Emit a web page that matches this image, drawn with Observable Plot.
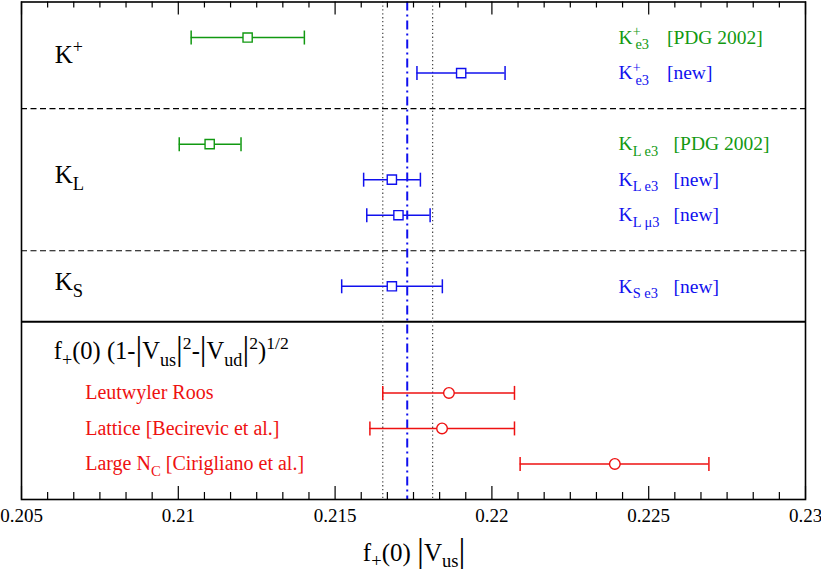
<!DOCTYPE html>
<html>
<head>
<meta charset="utf-8">
<script src="https://cdn.jsdelivr.net/npm/d3@7"></script>
<script src="https://cdn.jsdelivr.net/npm/@observablehq/plot@0.6"></script>
<style>
  html, body { margin: 0; padding: 0; background: white; }
  svg text { white-space: pre; }
</style>
</head>
<body>
<div id="chart"></div>
<script>
// ---- data ----
const rows    = [1, 2, 4, 5, 6, 8, 11, 12, 13];
const centers = [0.21221, 0.21902, 0.21100, 0.21681, 0.21702, 0.21681, 0.21863, 0.21841, 0.22392];
const lows    = [0.21041, 0.21761, 0.21003, 0.21591, 0.21601, 0.21521, 0.21652, 0.21611, 0.22090];
const highs   = [0.21402, 0.22042, 0.21200, 0.21772, 0.21803, 0.21842, 0.22072, 0.22072, 0.22692];
const kinds   = ["PDG 2002", "new", "PDG 2002", "new", "new", "new", "theory", "theory", "theory"];
const names   = ["K^{+}_{e3}", "K^{+}_{e3}", "K_{L e3}", "K_{L e3}", "K_{L μ3}", "K_{S e3}",
                 "Leutwyler Roos", "Lattice [Becirevic et al.]", "Large N_{C} [Cirigliano et al.]"];
const tags    = ["[PDG 2002]", "[new]", "[PDG 2002]", "[new]", "[new]", "[new]", "", "", ""];

const groupLabels = ["K^{+}", "K_{L}", "K_{S}"];
const groupRows   = [1.5, 4.88, 7.89];
const formulaLabel = "f_{+}(0) (1-#|V_{us}#|^{2}-#|V_{ud}#|^{2})^{1/2}";
const formulaRow = 9.83;

const dashedRows = [3, 7];
const solidRows  = [9];
const centralValue = 0.2173;
const bandEdges = [0.21652, 0.21811];

const majorTicks = [0.205, 0.21, 0.215, 0.22, 0.225, 0.23];
const tickLabels = ["0.205", "0.21", "0.215", "0.22", "0.225", "0.23"];
const minorTicks = d3.range(0, 31).map(k => 0.205 + k * 0.005 / 6).filter((d, k) => k % 6 !== 0);
const xTitle = "f_{+}(0) #|V_{us}#|";

const points = rows.map((r, i) => ({row: r, c: centers[i], lo: lows[i], hi: highs[i], kind: kinds[i],
  label: names[i], tag: tags[i]}));
const expPts = points.filter(d => d.kind !== "theory");
const thPts  = points.filter(d => d.kind === "theory");
const tagA = expPts.filter(d => d.label.includes("^"));
const tagB = expPts.filter(d => !d.label.includes("^"));

const capSymbol = {
  draw(ctx, size) {
    const h = Math.sqrt(size / Math.PI);
    ctx.moveTo(0, -h); ctx.lineTo(0, h);
  }
};

const H = 572, mT = 1.5, mB = 73;
const frameH = H - mT - mB;
const labelX = 0.22404;

const plot = Plot.plot({
  width: 821, height: H,
  marginLeft: 21, marginRight: 16, marginTop: mT, marginBottom: mB,
  x: {domain: [0.205, 0.23], axis: null},
  y: {domain: [0, 14], reverse: true, axis: null},
  color: {domain: ["PDG 2002", "new", "theory"], range: ["#119911", "#1010ee", "#ee1111"]},
  style: {fontFamily: "Liberation Serif", background: "white"},
  marks: [
    Plot.ruleY(dashedRows, {stroke: "black", strokeWidth: 1.2, strokeDasharray: "6,3.5"}),
    Plot.ruleY(solidRows, {stroke: "black", strokeWidth: 2}),
    Plot.ruleX(bandEdges, {stroke: "#444", strokeWidth: 1.2, strokeDasharray: "1.3,2.6"}),
    Plot.ruleX([centralValue], {stroke: "#1010ee", strokeWidth: 2, strokeDasharray: "9,4,2,4"}),
    Plot.ruleY(points, {y: "row", x1: "lo", x2: "hi", stroke: "kind", strokeWidth: 1.5}),
    Plot.dot(points, {x: "lo", y: "row", symbol: capSymbol, r: 7, stroke: "kind", strokeWidth: 1.5}),
    Plot.dot(points, {x: "hi", y: "row", symbol: capSymbol, r: 7, stroke: "kind", strokeWidth: 1.5}),
    Plot.dot(expPts, {x: "c", y: "row", symbol: "square", r: 5.2, fill: "white", stroke: "kind", strokeWidth: 1.4}),
    Plot.dot(thPts, {x: "c", y: "row", symbol: "circle", r: 5.3, fill: "white", stroke: "kind", strokeWidth: 1.4}),
    // ticks (inward, top and bottom)
    Plot.tickX(majorTicks, {x: d => d, insetTop: frameH - 13, stroke: "black", strokeWidth: 1.2}),
    Plot.tickX(majorTicks, {x: d => d, insetBottom: frameH - 13, stroke: "black", strokeWidth: 1.2}),
    Plot.tickX(minorTicks, {x: d => d, insetTop: frameH - 7, stroke: "black", strokeWidth: 1.2}),
    Plot.tickX(minorTicks, {x: d => d, insetBottom: frameH - 6, stroke: "black", strokeWidth: 1.2}),
    Plot.frame({stroke: "black", strokeWidth: 1.6}),
    // tick labels
    Plot.text(majorTicks, {x: d => d, text: (d, i) => tickLabels[i], frameAnchor: "bottom", dy: 22,
      lineAnchor: "bottom", fontSize: 19, fill: "black"}),
    // group labels
    Plot.text(groupLabels, {x: 0.20606, y: (d, i) => groupRows[i], text: d => d, textAnchor: "start",
      fontSize: 25, fill: "black"}),
    Plot.text([formulaLabel], {x: 0.20603, y: formulaRow, text: d => d, textAnchor: "start",
      fontSize: 24.5, fill: "black"}),
    // series labels
    Plot.text(expPts, {x: labelX, y: "row", text: "label", textAnchor: "start", fontSize: 19.5, fill: "kind"}),
    Plot.text(tagA, {x: labelX, y: "row", dx: 48.3, text: "tag", textAnchor: "start", fontSize: 19.5, fill: "kind"}),
    Plot.text(tagB, {x: labelX, y: "row", dx: 55, text: "tag", textAnchor: "start", fontSize: 19.5, fill: "kind"}),
    Plot.text(thPts, {x: 0.20703, y: "row", text: "label", textAnchor: "start", fontSize: 20, fill: "kind"}),
    // x title
    Plot.text([xTitle], {x: 0.21752, frameAnchor: "bottom", dy: 61, lineAnchor: "bottom", text: d => d,
      fontSize: 25, fill: "black"})
  ]
});

document.getElementById("chart").append(plot);

// ---- rich text (sub/superscripts, big bars) ----
const NS = "http://www.w3.org/2000/svg";
function parse(s) {
  const segs = []; let buf = ""; let i = 0;
  const flush = () => { if (buf) { segs.push({t: buf, m: "n"}); buf = ""; } };
  while (i < s.length) {
    const c = s[i];
    if ((c === "_" || c === "^") && s[i + 1] === "{") {
      flush();
      const j = s.indexOf("}", i);
      segs.push({t: s.slice(i + 2, j), m: c === "_" ? "sub" : "sup"});
      i = j + 1; continue;
    }
    if (c === "#" && s[i + 1] === "|") { flush(); segs.push({t: "|", m: "bar"}); i += 2; continue; }
    buf += c; i++;
  }
  flush();
  return segs;
}
function rich(el) {
  const s = el.textContent;
  if (!/[_^#]/.test(s)) return;
  const fs = parseFloat(getComputedStyle(el).fontSize);
  while (el.firstChild) el.removeChild(el.firstChild);
  let shift = 0, prev = null;
  for (const seg of parse(s)) {
    const ts = document.createElementNS(NS, "tspan");
    let size = fs, target = 0;
    if (seg.m === "sub") { size = 0.74 * fs; target = 0.27 * fs; }
    else if (seg.m === "sup") { size = 0.72 * fs; target = -0.4 * fs; }
    else if (seg.m === "bar") { size = 1.38 * fs; target = 0.05 * fs; }
    ts.setAttribute("font-size", size);
    if (Math.abs(target - shift) > 1e-6) { ts.setAttribute("dy", target - shift); shift = target; }
    if (seg.m === "sub" && prev && prev.m === "sup") ts.setAttribute("dx", -prev.width * 0.65);
    ts.textContent = seg.t;
    el.appendChild(ts);
    prev = {m: seg.m, width: ts.getComputedTextLength()};
  }
}
plot.querySelectorAll("text").forEach(rich);
</script>
</body>
</html>
